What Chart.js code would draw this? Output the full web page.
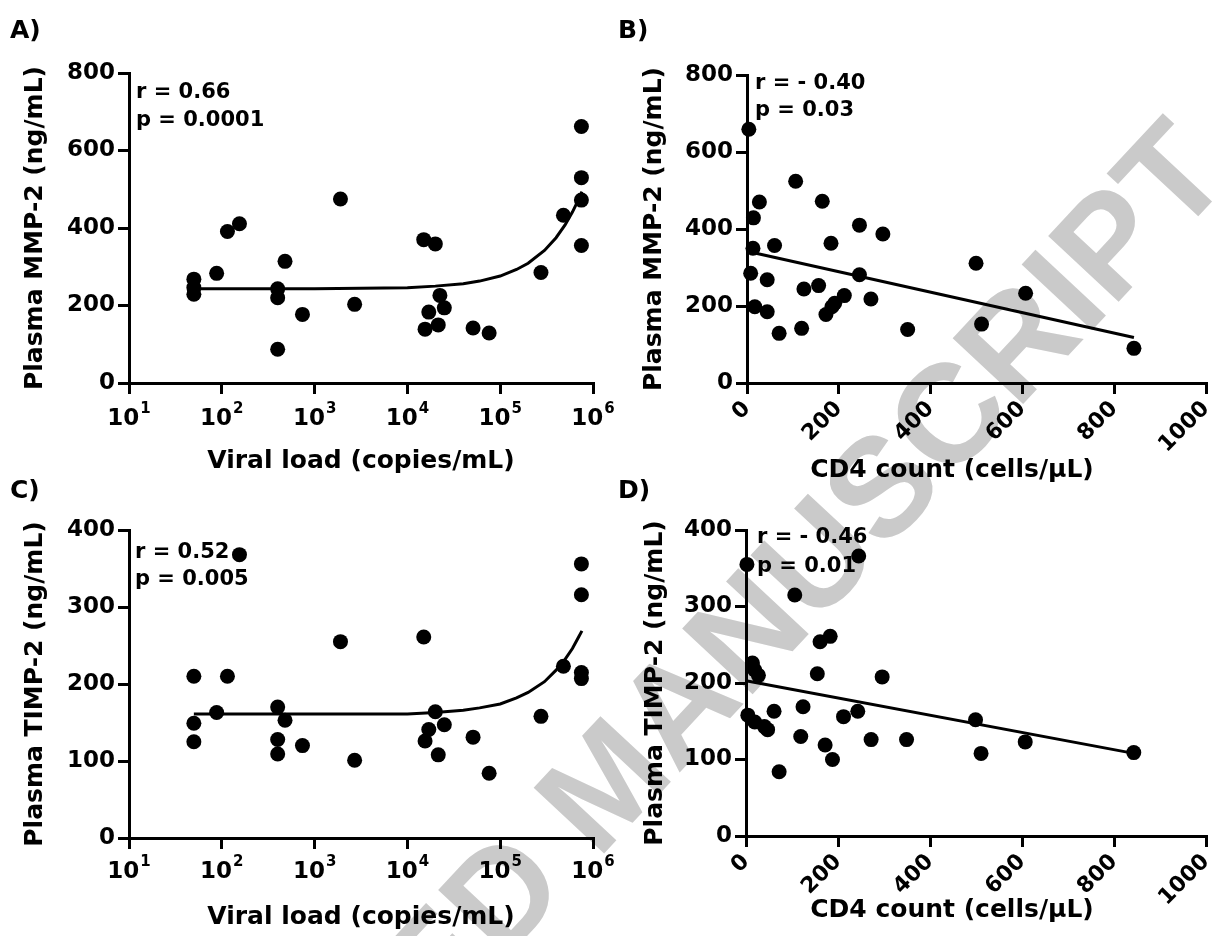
<!DOCTYPE html>
<html>
<head>
<meta charset="utf-8">
<script src="https://cdn.jsdelivr.net/npm/chart.js@4.4.1/dist/chart.umd.min.js"></script>
<style>
  html, body { margin: 0; padding: 0; background: #fff; overflow: hidden; }
  body { width: 1215px; height: 936px; position: relative; }
  canvas { position: absolute; }
  .watermark {
    position: absolute; left: 605px; top: 782px;
    transform: translate(-50%, -50%) rotate(-47deg);
    font: bold 140px "Liberation Sans"; color: #cacaca; white-space: nowrap;
  }
</style>
</head>
<body>
<div class="watermark">ACCEPTED MANUSCRIPT</div>
<canvas id="chartA" width="640" height="480" style="left:0;top:0"></canvas>
<canvas id="chartB" width="630" height="490" style="left:600px;top:0"></canvas>
<canvas id="chartC" width="640" height="496" style="left:0;top:440px"></canvas>
<canvas id="chartD" width="630" height="496" style="left:600px;top:440px"></canvas>
<script>
// ── ticks ──────────────────────────────────────────────
const vlTickExps = [1, 2, 3, 4, 5, 6];
const mmpTicks   = [0, 200, 400, 600, 800];
const timpTicks  = [0, 100, 200, 300, 400];
const cd4Ticks   = [0, 200, 400, 600, 800, 1000];

// ── A) MMP-2 vs viral load ─────────────────────────────
const vlA  = [50, 50, 50, 88, 115, 155, 400, 400, 400, 480, 740, 1900, 2700,
              15000, 20000, 22400, 17000, 25000, 15500, 21500, 51000, 76000,
              275000, 480000, 750000, 750000, 750000, 750000];
const mmpA = [268, 246, 229, 283, 391, 411, 243, 220, 87, 314, 177, 475, 203,
              370, 359, 226, 183, 194, 139, 150, 142, 129,
              285, 433, 662, 530, 472, 355];
const fitVlA  = [50, 1000, 10000, 20000, 40000, 60000, 100000, 150000, 200000, 300000, 400000, 500000, 600000, 700000, 760000];
const fitMmpA = [243, 243, 246, 250, 256, 263, 276, 293, 309, 342, 375, 408, 441, 474, 494];

// ── B) MMP-2 vs CD4 ────────────────────────────────────
const cd4B = [4, 14, 27, 13, 8, 17, 44, 44, 60, 70, 106, 119, 124, 156, 164, 172, 183, 185, 191,
              212, 245, 245, 270, 296, 350, 499, 511, 607, 843];
const mmpB = [659, 429, 470, 350, 285, 198, 185, 268, 357, 129, 524, 142, 244, 253, 472, 178, 363, 198, 207,
              227, 410, 281, 218, 387, 139, 311, 153, 233, 90];
const fitCd4B = [0, 843];
const fitMmpB = [342, 118];

// ── C) TIMP-2 vs viral load ────────────────────────────
const vlC   = [50, 50, 50, 88, 115, 155, 400, 400, 400, 480, 740, 1900, 2700,
               15000, 15500, 17000, 20000, 21500, 25000, 51000, 76000,
               275000, 480000, 750000, 750000, 750000, 750000];
const timpC = [210, 149, 125, 163, 210, 368, 170, 128, 109, 153, 120, 255, 101,
               261, 126, 141, 164, 108, 147, 131, 84,
               158, 223, 356, 316, 215, 207];
const fitVlC   = [50, 10000, 20000, 40000, 60000, 100000, 150000, 200000, 300000, 400000, 500000, 600000, 700000, 760000];
const fitTimpC = [161, 161, 163, 166, 169, 174, 182, 189, 203, 218, 232, 246, 261, 269];

// ── D) TIMP-2 vs CD4 ───────────────────────────────────
const cd4D  = [2, 14, 19, 27, 4, 19, 40, 47, 61, 72, 106, 119, 124, 155, 161, 183, 172, 188,
               212, 243, 245, 272, 296, 349, 499, 511, 607, 843];
const timpD = [355, 226, 217, 210, 158, 149, 143, 139, 163, 84, 315, 130, 169, 212, 254, 261, 119, 100,
               156, 163, 366, 126, 208, 126, 152, 108, 123, 109];
const fitCd4D  = [0, 843];
const fitTimpD = [203, 108];

const FONT = 'DejaVu Sans';
const LABEL_FONT = 'bold 25px "DejaVu Sans"';
const NOTE_FONT  = 'bold 21px "DejaVu Sans"';

function pts(xs, ys) { return xs.map((x, i) => ({ x, y: ys[i] })); }

// texte libre (lettres de panneau, r / p, titre décalé)
function notesPlugin(items) {
  return {
    id: 'notes',
    afterDraw(chart) {
      const ctx = chart.ctx;
      ctx.save();
      ctx.fillStyle = '#000';
      ctx.textBaseline = 'alphabetic';
      items.forEach(n => {
        ctx.font = n.font;
        ctx.textAlign = n.align || 'left';
        ctx.fillText(n.text, n.x, n.y);
      });
      ctx.restore();
    }
  };
}

// étiquettes 10^n sous l'axe log
function powerTicksPlugin(offset) {
  return {
    id: 'powerTicks',
    afterDraw(chart) {
      const sc = chart.scales.x, ctx = chart.ctx;
      ctx.save();
      ctx.fillStyle = '#000';
      ctx.textAlign = 'left';
      ctx.textBaseline = 'alphabetic';
      vlTickExps.forEach(e => {
        const px = sc.getPixelForValue(Math.pow(10, e));
        ctx.font = `bold 23px "${FONT}"`;
        const wb = ctx.measureText('10').width;
        ctx.font = `bold 15px "${FONT}"`;
        const we = ctx.measureText(String(e)).width;
        const x0 = px - (wb + we + 1) / 2;
        const y = sc.top + offset;
        ctx.font = `bold 23px "${FONT}"`;
        ctx.fillText('10', x0, y);
        ctx.font = `bold 15px "${FONT}"`;
        ctx.fillText(String(e), x0 + wb + 1, y - 12);
      });
      ctx.restore();
    }
  };
}

const AX = {
  border: { display: true, color: '#000', width: 3 },
  grid: { display: true, drawOnChartArea: false, drawTicks: true, tickLength: 11,
          tickWidth: 3, lineWidth: 3, color: '#000', tickColor: '#000' },
};

function yScale(ticks, max, title, width, titlePad) {
  return {
    min: 0, max,
    afterBuildTicks: s => { s.ticks = ticks.map(v => ({ value: v })); },
    afterFit: s => { s.width = width; },
    ticks: { color: '#000', padding: 3, font: { family: FONT, size: 23, weight: 'bold' } },
    title: { display: true, text: title, color: '#000', padding: { top: titlePad, bottom: 0 },
             font: { family: FONT, size: 25, weight: 'bold' } },
    ...AX,
  };
}

function logX(height) {
  return {
    type: 'logarithmic', min: 10, max: 1e6,
    afterBuildTicks: s => { s.ticks = vlTickExps.map(e => ({ value: Math.pow(10, e) })); },
    afterFit: s => { s.height = height; },
    ticks: { display: false },
    title: { display: true, text: 'Viral load (copies/mL)', color: '#000', padding: { top: 0, bottom: 4 },
             font: { family: FONT, size: 25, weight: 'bold' } },
    ...AX,
  };
}

function cd4X(height) {
  return {
    type: 'linear', min: 0, max: 1000,
    afterBuildTicks: s => { s.ticks = cd4Ticks.map(v => ({ value: v })); },
    afterFit: s => { s.height = height; },
    ticks: { color: '#000', padding: 2, autoSkip: false, minRotation: 45, maxRotation: 45,
             callback: v => String(v), font: { family: FONT, size: 22, weight: 'bold' } },
    ...AX,
  };
}

function makeChart(id, cfg) {
  return new Chart(document.getElementById(id), {
    type: 'scatter',
    data: {
      datasets: [
        { data: pts(cfg.xs, cfg.ys), backgroundColor: '#000', pointRadius: 7.5,
          pointBorderWidth: 0, clip: false },
        { data: pts(cfg.fx, cfg.fy), showLine: true, borderColor: '#000', borderWidth: 3,
          pointRadius: 0, tension: 0, clip: false },
      ],
    },
    options: {
      responsive: false,
      animation: false,
      devicePixelRatio: 1,
      layout: { padding: cfg.padding },
      plugins: { legend: { display: false }, tooltip: { enabled: false } },
      scales: { x: cfg.x, y: cfg.y },
    },
    plugins: cfg.plugins,
  });
}

makeChart('chartA', {
  xs: vlA, ys: mmpA, fx: fitVlA, fy: fitMmpA,
  padding: { top: 73, left: 0, right: 47, bottom: 0 },
  x: logX(97),
  y: yScale(mmpTicks, 800, 'Plasma MMP-2 (ng/mL)', 129, 20),
  plugins: [powerTicksPlugin(42), notesPlugin([
    { text: 'A)', x: 10, y: 38, font: LABEL_FONT },
    { text: 'r = 0.66', x: 136, y: 98, font: NOTE_FONT },
    { text: 'p = 0.0001', x: 136, y: 126, font: NOTE_FONT },
  ])],
});

makeChart('chartB', {
  xs: cd4B, ys: mmpB, fx: fitCd4B, fy: fitMmpB,
  padding: { top: 75, left: 0, right: 24, bottom: 0 },
  x: cd4X(107),
  y: yScale(mmpTicks, 800, 'Plasma MMP-2 (ng/mL)', 147, 39),
  plugins: [notesPlugin([
    { text: 'B)', x: 18, y: 38, font: LABEL_FONT },
    { text: 'r = - 0.40', x: 155, y: 89, font: NOTE_FONT },
    { text: 'p = 0.03', x: 155, y: 116, font: NOTE_FONT },
    { text: 'CD4 count (cells/µL)', x: 352, y: 477, font: LABEL_FONT, align: 'center' },
  ])],
});

makeChart('chartC', {
  xs: vlC, ys: timpC, fx: fitVlC, fy: fitTimpC,
  padding: { top: 90, left: 0, right: 47, bottom: 0 },
  x: logX(98),
  y: yScale(timpTicks, 400, 'Plasma TIMP-2 (ng/mL)', 129, 20),
  plugins: [powerTicksPlugin(40), notesPlugin([
    { text: 'C)', x: 10, y: 58, font: LABEL_FONT },
    { text: 'r = 0.52', x: 135, y: 118, font: NOTE_FONT },
    { text: 'p = 0.005', x: 135, y: 145, font: NOTE_FONT },
  ])],
});

makeChart('chartD', {
  xs: cd4D, ys: timpD, fx: fitCd4D, fy: fitTimpD,
  padding: { top: 90, left: 0, right: 24, bottom: 0 },
  x: cd4X(100),
  y: yScale(timpTicks, 400, 'Plasma TIMP-2 (ng/mL)', 146, 40),
  plugins: [notesPlugin([
    { text: 'D)', x: 18, y: 58, font: LABEL_FONT },
    { text: 'r = - 0.46', x: 157, y: 103, font: NOTE_FONT },
    { text: 'p = 0.01', x: 157, y: 132, font: NOTE_FONT },
    { text: 'CD4 count (cells/µL)', x: 352, y: 477, font: LABEL_FONT, align: 'center' },
  ])],
});
</script>
</body>
</html>
